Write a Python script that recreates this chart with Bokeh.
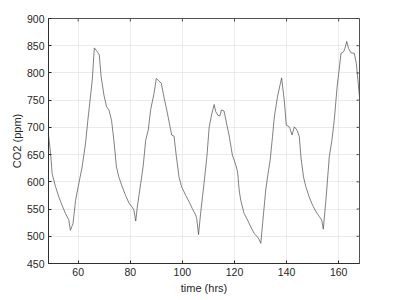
from bokeh.plotting import figure
from bokeh.models import Range1d, FixedTicker
from bokeh.embed import file_html
from bokeh.resources import INLINE

time_hrs = [48.6, 49.4, 50.0, 51.3, 52.6, 53.8, 55.1, 56.4, 57.0, 58.0, 59.0, 60.0,
            61.5, 62.8, 63.7, 64.7, 65.4, 66.2, 67.3, 68.1, 68.8, 69.9, 70.9, 71.8,
            72.8, 73.7, 74.7, 75.6, 76.9, 78.2, 79.5, 80.8, 81.4, 82.1, 82.7, 84.0,
            85.0, 85.9, 86.9, 87.8, 89.1, 90.0, 91.0, 91.9, 92.9, 94.0, 94.9, 95.9,
            96.8, 97.7, 98.7, 99.7, 101.3, 102.6, 103.8, 105.1, 105.5, 106.2, 107.0,
            108.3, 109.4, 110.3, 111.3, 112.2, 112.8, 113.7, 114.4, 115.0, 116.0,
            117.1, 117.9, 119.2, 120.5, 121.2, 121.8, 122.4, 123.7, 125.0, 126.3,
            127.6, 128.8, 129.5, 130.1, 130.8, 132.0, 132.7, 133.7, 134.6, 135.3,
            136.5, 138.1, 139.1, 139.9, 140.8, 141.3, 142.1, 143.0, 144.0, 144.9,
            145.5, 146.5, 147.4, 148.7, 150.0, 151.3, 152.6, 153.5, 154.1, 155.1,
            156.4, 157.4, 158.3, 159.4, 160.9, 161.9, 162.4, 163.1, 163.8, 164.7,
            166.0, 166.8, 168.0]
co2_ppm = [686, 652, 615, 591, 572, 557, 542, 530, 511, 523, 566, 591,
           627, 670, 713, 756, 787, 846, 839, 833, 793, 759, 738, 732,
           713, 676, 627, 609, 591, 575, 561, 553, 548, 528, 554, 597,
           631, 676, 695, 732, 762, 790, 785, 781, 756, 732, 710, 686,
           684, 646, 609, 591, 575, 563, 551, 539, 533, 503, 542,
           597, 646, 701, 725, 742, 729, 722, 721, 732, 730,
           704, 686, 649, 631, 618, 585, 566, 542, 530, 517,
           505, 499, 494, 487, 523, 585, 609, 640, 683, 719,
           756, 791, 750, 704, 702, 698, 686, 701, 695, 683,
           646, 609, 591, 572, 557, 545, 536, 530, 513, 566,
           646, 676, 713, 774, 836, 839, 845, 858, 845, 837,
           836, 817, 756]

x_ticks = [60, 80, 100, 120, 140, 160]
y_ticks = [450, 500, 550, 600, 650, 700, 750, 800, 850, 900]
x_min, x_max = 48.6, 168
y_min, y_max = 450, 900

FONT = "Liberation Sans"
AX = "#262626"

p = figure(width=402, height=300, output_backend="svg", toolbar_location=None,
           x_range=Range1d(x_min, x_max), y_range=Range1d(y_min, y_max),
           min_border_left=48, min_border_right=43, min_border_top=18,
           min_border_bottom=37)
p.background_fill_color = "white"
p.border_fill_color = "white"
p.outline_line_color = AX
p.outline_line_width = 0.8

p.xgrid.ticker = FixedTicker(ticks=x_ticks)
p.ygrid.ticker = FixedTicker(ticks=y_ticks)
p.grid.grid_line_color = "#e6e6e6"
p.grid.grid_line_width = 0.8

p.line(time_hrs, co2_ppm, line_color="#4a4a4a", line_width=0.7)

# inward ticks on top and right edges (markers clipped by the frame)
p.scatter(x_ticks, [y_max] * len(x_ticks), marker="dash", angle=1.5708,
          size=6, line_color=AX, line_width=0.8)
p.scatter([x_max] * len(y_ticks), y_ticks, marker="dash",
          size=6, line_color=AX, line_width=0.8)

for ax in (p.xaxis[0], p.yaxis[0]):
    ax.major_tick_in = 3
    ax.major_tick_out = 0
    ax.minor_tick_in = 0
    ax.minor_tick_out = 0
    ax.axis_line_color = AX
    ax.axis_line_width = 0.8
    ax.major_tick_line_color = AX
    ax.major_label_text_font = FONT
    ax.major_label_text_font_size = "10.5px"
    ax.major_label_text_color = AX
    ax.axis_label_text_font = FONT
    ax.axis_label_text_font_size = "11px"
    ax.axis_label_text_font_style = "normal"
    ax.axis_label_text_color = AX
    ax.major_label_standoff = 4

p.xaxis[0].ticker = FixedTicker(ticks=x_ticks)
p.yaxis[0].ticker = FixedTicker(ticks=y_ticks)
p.xaxis[0].axis_label = "time (hrs)"
p.yaxis[0].axis_label = "CO2 (ppm)"
p.xaxis[0].axis_label_standoff = 3
p.yaxis[0].axis_label_standoff = 1

open("out.html", "w").write(file_html(p, INLINE))
